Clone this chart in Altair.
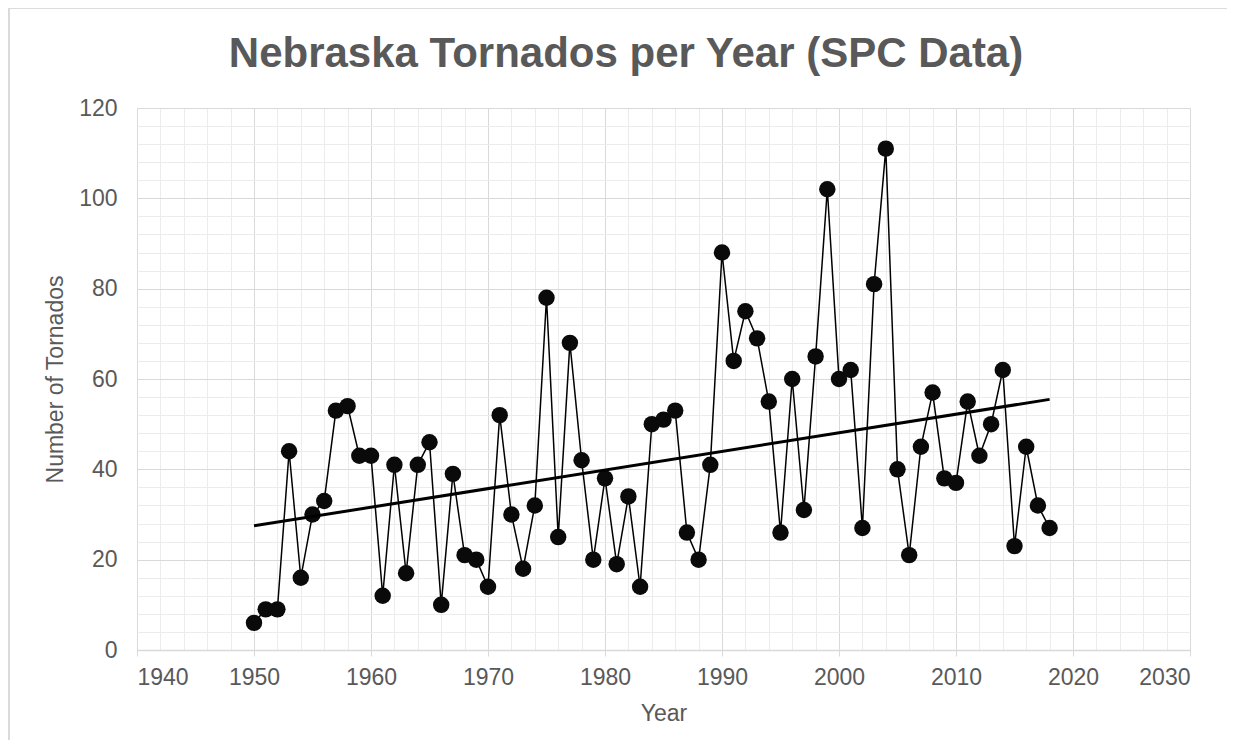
import altair as alt
import pandas as pd

years = list(range(1950, 2019))
counts = [6, 9, 9, 44, 16, 30, 33, 53, 54, 43,
          43, 12, 41, 17, 41, 46, 10, 39, 21, 20,
          14, 52, 30, 18, 32, 78, 25, 68, 42, 20,
          38, 19, 34, 14, 50, 51, 53, 26, 20, 41,
          88, 64, 75, 69, 55, 26, 60, 31, 65, 102,
          60, 62, 27, 81, 111, 40, 21, 45, 57, 38,
          37, 55, 43, 50, 62, 23, 45, 32, 27]

x_ticks = list(range(1940, 2031, 2))
y_ticks = list(range(0, 121, 4))
title_text = "Nebraska Tornados per Year (SPC Data)"

df = pd.DataFrame({"year": years, "count": counts})

FONT = "Liberation Sans"
TXT = "#595959"
MAJ = "#d9d9d9"
MIN = "#ececec"

W, H = 1053, 542

x_enc = alt.X(
    "year:Q",
    scale=alt.Scale(domain=[1940, 2030], nice=False, zero=False),
    axis=alt.Axis(
        values=x_ticks,
        title="Year",
        labelExpr="datum.value % 10 === 0 ? datum.label : ''",
        format="d",
        gridColor={"condition": {"test": "datum.value % 10 === 0", "value": MAJ}, "value": MIN},
        tickOpacity={"condition": {"test": "datum.value % 10 === 0", "value": 1}, "value": 0},
        tickColor=MAJ,
        tickSize=6,
        domainColor=MAJ,
        domainWidth=1.5,
        labelPadding=10,
        labelFontSize=23,
        labelColor=TXT,
        labelFont=FONT,
        titleFont=FONT,
        titleFontSize=23,
        titleFontWeight="normal",
        titleColor=TXT,
        titleY=63,
        titleBaseline="middle",
    ),
)

y_enc = alt.Y(
    "count:Q",
    scale=alt.Scale(domain=[0, 120], nice=False),
    axis=alt.Axis(
        values=y_ticks,
        title="Number of Tornados",
        labelExpr="datum.value % 20 === 0 ? datum.label : ''",
        gridColor={"condition": {"test": "datum.value % 20 === 0", "value": MAJ}, "value": MIN},
        ticks=False,
        domain=False,
        labelPadding=20,
        labelFontSize=23,
        labelColor=TXT,
        labelFont=FONT,
        titleFont=FONT,
        titleFontSize=23,
        titleFontWeight="normal",
        titleColor=TXT,
        titleX=-82,
        titleY=H / 2,
        titleBaseline="middle",
    ),
)

base = alt.Chart(df)

border = base.mark_rect(filled=False, stroke=MAJ, strokeWidth=1.5, clip=False).encode(
    x=alt.value(-128.5), x2=alt.value(W + 200),
    y=alt.value(-100.5), y2=alt.value(H + 300),
)

title = alt.Chart(pd.DataFrame({"t": [title_text]})).mark_text(
    font=FONT, fontSize=42, fontWeight="bold", color=TXT,
    align="center", baseline="alphabetic", clip=False,
).encode(x=alt.value(489), y=alt.value(-41), text="t:N")

line = base.mark_line(color="#000000", strokeWidth=1.5).encode(x=x_enc, y=y_enc)
points = base.mark_circle(color="#0a0a0a", size=270, opacity=1).encode(x=x_enc, y=y_enc)
trend = base.transform_regression("year", "count").mark_line(
    color="#000000", strokeWidth=3
).encode(x=x_enc, y=y_enc)

chart = alt.layer(border, line, points, trend, title).properties(
    width=W,
    height=H,
    autosize=alt.AutoSizeParams(type="none"),
    padding={"left": 129, "top": 100, "right": 37, "bottom": 90},
).configure_view(stroke="transparent")

chart.save("out.html", embed_options={"renderer": "svg", "actions": False})
